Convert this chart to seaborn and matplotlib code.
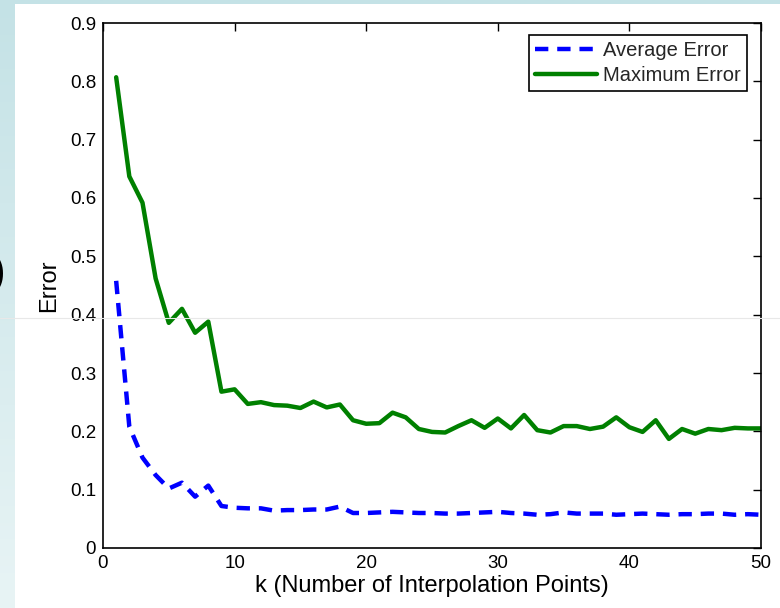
import numpy as np
import pandas as pd
import matplotlib.pyplot as plt
import matplotlib.ticker as mticker
from matplotlib.colors import LinearSegmentedColormap
from matplotlib.lines import Line2D
from matplotlib.patches import Rectangle
import seaborn as sns

# Datos
k_values = list(range(1, 51))
average_error = [0.458, 0.208, 0.155, 0.125, 0.102, 0.112, 0.088, 0.107, 0.072, 0.069,
                 0.068, 0.068, 0.064, 0.065, 0.065, 0.066, 0.066, 0.071, 0.060, 0.060,
                 0.061, 0.062, 0.061, 0.060, 0.060, 0.059, 0.059, 0.060, 0.061, 0.062,
                 0.060, 0.059, 0.057, 0.058, 0.061, 0.059, 0.059, 0.059, 0.057, 0.058,
                 0.059, 0.058, 0.057, 0.058, 0.058, 0.059, 0.059, 0.057, 0.058, 0.057]
maximum_error = [0.807, 0.637, 0.592, 0.462, 0.386, 0.410, 0.369, 0.388, 0.268, 0.272,
                 0.247, 0.250, 0.245, 0.244, 0.240, 0.251, 0.241, 0.246, 0.219, 0.213,
                 0.214, 0.232, 0.224, 0.204, 0.199, 0.198, 0.209, 0.219, 0.206, 0.222,
                 0.205, 0.228, 0.202, 0.198, 0.209, 0.209, 0.204, 0.208, 0.224, 0.207,
                 0.199, 0.219, 0.187, 0.204, 0.196, 0.204, 0.202, 0.206, 0.205, 0.205]
series_names = ['Average Error', 'Maximum Error']
x_ticks = [0, 10, 20, 30, 40, 50]
y_ticks = [0, 0.1, 0.2, 0.3, 0.4, 0.5, 0.6, 0.7, 0.8, 0.9]

# Tabla larga para seaborn
df = pd.DataFrame({'k': k_values, series_names[0]: average_error, series_names[1]: maximum_error})
long_df = df.melt(id_vars='k', var_name='series', value_name='error')

sns.set_theme(style="white")
plt.rcParams['font.family'] = ['Liberation Sans', 'DejaVu Sans']

fig = plt.figure(figsize=(7.8, 6.08), dpi=100)

# Fondo de la diapositiva (degradado) y zona blanca de la imagen
bg = fig.add_axes([0, 0, 1, 1], zorder=-10)
grad = np.linspace(0, 1, 256).reshape(-1, 1)
cmap = LinearSegmentedColormap.from_list('slide', ['#c4e2e6', '#e8f4f5'])
bg.imshow(grad, aspect='auto', cmap=cmap, extent=[0, 1, 0, 1])
bg.axis('off')
fig.add_artist(Rectangle((15 / 780, 0), 1, 1 - 4 / 608, transform=fig.transFigure,
                         facecolor='white', edgecolor='none', zorder=-5))

ax = fig.add_axes([103 / 780, 1 - 548 / 608, 658 / 780, 525 / 608])
ax.set_facecolor('white')

sns.lineplot(data=long_df, x='k', y='error', hue='series', style='series',
             palette={series_names[0]: '#0000ff', series_names[1]: '#008000'},
             dashes={series_names[0]: (3.0, 2.0), series_names[1]: ''},
             linewidth=3.2, legend=False, ax=ax)

ax.set_xlim(0, 50)
ax.set_ylim(0, 0.9)
ax.set_xticks(x_ticks)
ax.set_yticks(y_ticks)
ax.yaxis.set_major_formatter(mticker.FuncFormatter(lambda v, _: f'{v:g}'))
ax.tick_params(direction='in', length=6, width=1, top=True, right=True,
               labelsize=13.5, colors='black', pad=5)
for s in ax.spines.values():
    s.set_color('black')
    s.set_linewidth(1.2)

ax.set_xlabel('k (Number of Interpolation Points)', fontsize=17, labelpad=2, color='black')
ax.set_ylabel('Error', fontsize=17, labelpad=7, color='black')

leg = ax.legend(ax.lines[:2], series_names, loc='upper right',
                bbox_to_anchor=(0.979, 0.977), borderaxespad=0, fontsize=14.5,
                fancybox=False, framealpha=1, edgecolor='black',
                handlelength=3.1, handletextpad=0.3, labelspacing=0.3, borderpad=0.3)
leg.get_frame().set_linewidth(1.2)

# Restos de la diapositiva
fig.text(5 / 780, 1 - 273 / 608, ')', fontsize=32, ha='right', va='center', color='black')
fig.add_artist(Line2D([0, 1], [1 - 318 / 608, 1 - 318 / 608], transform=fig.transFigure,
                      color='#e8e8e8', linewidth=0.8, zorder=10))

fig.savefig('out.png', dpi=100)
